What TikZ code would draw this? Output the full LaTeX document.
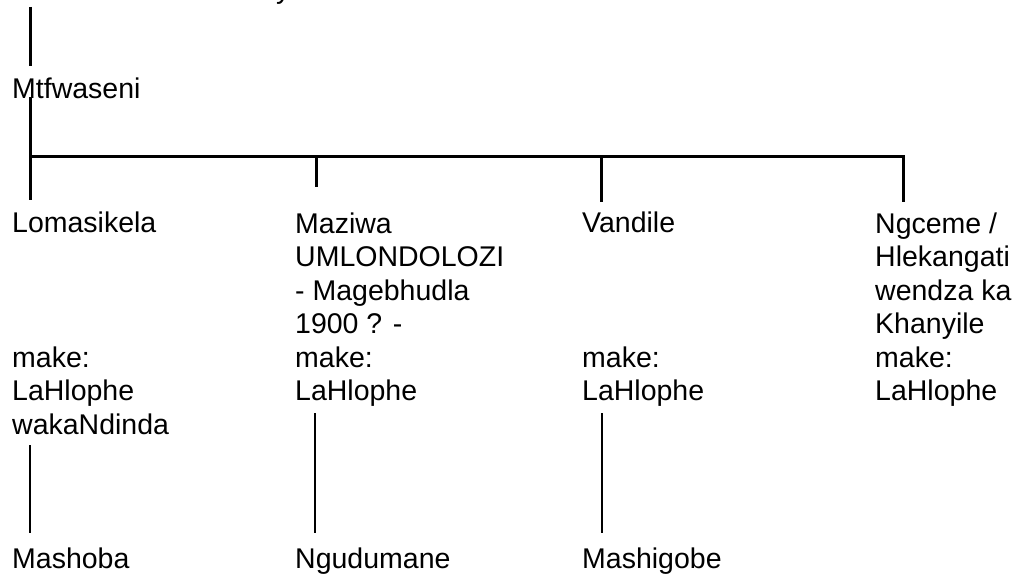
\documentclass[tikz,border=0pt]{standalone}
\usepackage{fontspec}
\setmainfont{Liberation Sans}
\begin{document}
\begin{tikzpicture}[x=1pt,y=-1pt,
  lbl/.style={anchor=base west, inner sep=0pt, align=left, font=\fontsize{28.5}{33.5}\selectfont},
  con/.style={line width=3pt},
  con2/.style={line width=2.6pt}]
\useasboundingbox (0,0) rectangle (1019,577);
\begin{scope}
  \clip (0,0) rectangle (1019,577);
  \node[lbl] (above) at (276,-1) {y};
\end{scope}
% people (anchor = baseline of the last line)
\node[lbl] (m)   at (12,99)  {Mtfwaseni};
\node[lbl] (c1a) at (12,233) {Lomasikela};
\node[lbl] (c1b) at (12,434) {make:\\LaHlophe\\wakaNdinda};
\node[lbl] (c1c) at (12,568) {Mashoba};
\node[lbl] (c2a) at (295,400.5) {Maziwa\\UMLONDOLOZI\\- Magebhudla\\1900 ? -\\make:\\LaHlophe};
\node[lbl] (c2c) at (295,568) {Ngudumane};
\node[lbl] (c3a) at (582,233) {Vandile};
\node[lbl] (c3b) at (582,400.5) {make:\\LaHlophe};
\node[lbl] (c3c) at (582,568) {Mashigobe};
\node[lbl] (c4a) at (875,400.5) {Ngceme /\\Hlekangati\\wendza ka\\Khanyile\\make:\\LaHlophe};
% connector end points
\coordinate (t0) at (30,7);
\coordinate (t1) at (30,66);
\coordinate (m1) at (30,97);
\coordinate (b1) at (30,157);
\coordinate (b2) at (316,157);
\coordinate (b3) at (601,157);
\coordinate (b4) at (903,157);
\coordinate (d1) at (30,200);
\coordinate (d2) at (316,187);
\coordinate (d3) at (601,202);
\coordinate (d4) at (903,202);
\coordinate (l1a) at (30,445);
\coordinate (l1b) at (30,533);
\coordinate (l2a) at (315,413);
\coordinate (l2b) at (315,533);
\coordinate (l3a) at (602,413);
\coordinate (l3b) at (602,533);
% connectors
\draw[con] (t0) -- (t1);
\draw[con] (m1) -- (d1);
\draw[con] (b1) -- (b4) -- (d4);
\draw[con] (b2) -- (d2);
\draw[con] (b3) -- (d3);
\draw[con2] (l1a) -- (l1b);
\draw[con2] (l2a) -- (l2b);
\draw[con2] (l3a) -- (l3b);
\end{tikzpicture}
\end{document}
